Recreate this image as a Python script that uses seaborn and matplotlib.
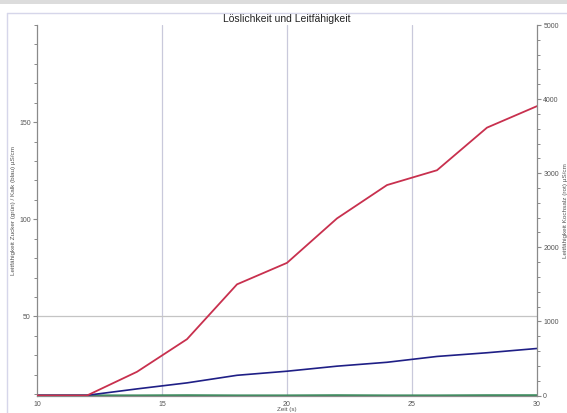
import matplotlib
matplotlib.use("Agg")
import matplotlib.pyplot as plt
from matplotlib.patches import Rectangle
from matplotlib.lines import Line2D
from matplotlib.ticker import MultipleLocator, FixedLocator
import pandas as pd
import seaborn as sns

# Messzeitpunkte (s)
zeit = [10, 12, 14, 16, 18, 20, 22, 24, 26, 28, 30]
# Leitfähigkeit Kochsalz (rot), µS/cm – rechte Achse
kochsalz = [0, 0, 320, 760, 1500, 1790, 2390, 2840, 3040, 3615, 3905]
# Leitfähigkeit Kalk (blau), µS/cm – linke Achse
kalk = [9.4, 9.4, 12.7, 15.8, 19.7, 21.8, 24.4, 26.4, 29.4, 31.3, 33.5]
# Leitfähigkeit Zucker (grün), µS/cm – linke Achse
zucker = [9.4, 9.4, 9.4, 9.5, 9.4, 9.4, 9.5, 9.4, 9.4, 9.5, 9.5]

x_ticks = [10, 15, 20, 25, 30]
left_ticks = [50, 100, 150]
right_ticks = [0, 1000, 2000, 3000, 4000, 5000]

df = pd.DataFrame({"Zeit": zeit, "Kochsalz": kochsalz, "Kalk": kalk, "Zucker": zucker})

sns.set_style("white")
plt.rcParams["font.family"] = ["Liberation Sans", "DejaVu Sans"]

fig = plt.figure(figsize=(5.67, 4.13), dpi=100)

# Fensterrahmen: grauer Streifen oben, lila Rahmenlinie
fig.patches.append(Rectangle((0, 1 - 3.5 / 413), 1, 3.5 / 413, transform=fig.transFigure,
                             facecolor="#dcdcdc", edgecolor="none", zorder=0))
fig.lines.append(Line2D([7 / 567, 1], [1 - 12.5 / 413, 1 - 12.5 / 413], transform=fig.transFigure,
                        color="#d6d6ea", lw=1.0))
fig.lines.append(Line2D([7 / 567, 7 / 567], [0, 1 - 12.5 / 413], transform=fig.transFigure,
                        color="#d6d6ea", lw=1.0))

ax = fig.add_axes([37 / 567, 1 - 395.5 / 413, 500 / 567, 370.5 / 413])
ax2 = ax.twinx()

axis_col = "#8a8a8a"
tick_col = "#555555"

# linke Achse
ax.set_xlim(10, 30)
ax.set_ylim(9.3, 200)
for x in [15, 20, 25]:
    ax.axvline(x, color="#c9c9db", lw=0.9, zorder=0)
ax.axhline(50, color="#c4c4c4", lw=0.9, zorder=0)

sns.lineplot(data=df, x="Zeit", y="Zucker", ax=ax, color="#3a8a5c", lw=1.3, legend=False)
sns.lineplot(data=df, x="Zeit", y="Kalk", ax=ax, color="#1f1f86", lw=1.2, legend=False)

# rechte Achse
ax2.set_ylim(0, 5000)
sns.lineplot(data=df, x="Zeit", y="Kochsalz", ax=ax2, color="#c8304e", lw=1.3, legend=False)

ax.xaxis.set_major_locator(FixedLocator(x_ticks))
ax.xaxis.set_minor_locator(MultipleLocator(1))
ax.yaxis.set_major_locator(FixedLocator(left_ticks))
ax.yaxis.set_minor_locator(MultipleLocator(10))
ax2.yaxis.set_major_locator(FixedLocator(right_ticks))
ax2.yaxis.set_minor_locator(MultipleLocator(200))

for a in (ax, ax2):
    for s in a.spines.values():
        s.set_color(axis_col)
        s.set_linewidth(0.9)
    a.spines["top"].set_visible(False)
    a.tick_params(which="major", length=3, width=0.8, color=axis_col, labelsize=5,
                  labelcolor=tick_col, pad=1.5, direction="out")
    a.tick_params(which="minor", length=2, width=0.7, color=axis_col, direction="out")
ax.tick_params(axis="x", which="major", pad=0.8)

ax.spines["right"].set_visible(False)
ax2.spines["left"].set_visible(False)
ax2.spines["bottom"].set_visible(False)

ax.set_xlabel("Zeit (s)", fontsize=4.5, color=tick_col)
ax.xaxis.set_label_coords(0.5, -11.8 / 370.5)
ax.set_ylabel("Leitfähigkeit Zucker (grün) / Kalk (blau) µS/cm", fontsize=4.6,
              color=tick_col, labelpad=2)
ax2.set_ylabel("Leitfähigkeit Kochsalz (rot) µS/cm", fontsize=4.6, color=tick_col,
               rotation=90, labelpad=3)
ax2.yaxis.set_label_position("right")

ax.patch.set_visible(False)
ax2.patch.set_visible(False)

fig.text(287 / 567, 1 - 19 / 413, "Löslichkeit und Leitfähigkeit", ha="center", va="center",
         fontsize=7.5, color="#222222")

fig.savefig("out.png", dpi=100)
